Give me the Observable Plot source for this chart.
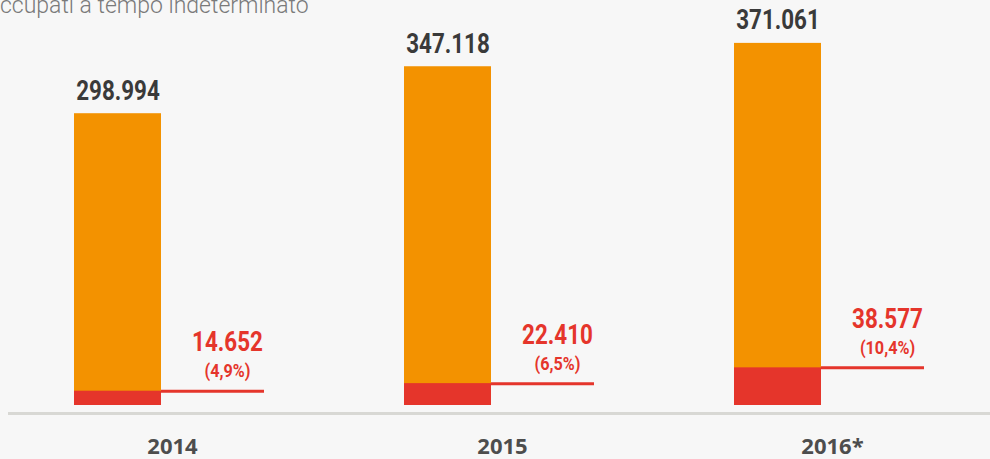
<!DOCTYPE html>
<html>
<head>
<meta charset="utf-8">
<script src="https://cdn.jsdelivr.net/npm/d3@7"></script>
<script src="https://cdn.jsdelivr.net/npm/@observablehq/plot@0.6"></script>
<style>
  html, body { margin: 0; padding: 0; background: #f7f7f7; }
  #wrap { position: relative; width: 990px; height: 459px; overflow: hidden; }
  #title { position: absolute; left: 0; top: -6px; font-family: Roboto, "Open Sans", sans-serif; font-weight: 300; font-size: 23px; line-height: 23px; color: #7a7a7a; white-space: nowrap; }
</style>
</head>
<body>
<div id="wrap">
  <div id="title">ccupati a tempo indeterminato</div>
</div>
<script>
const years = ["2014", "2015", "2016*"];
const totals = [298994, 347118, 371061];
const totalLabels = ["298.994", "347.118", "371.061"];
const parts = [14652, 22410, 38577];
const partLabels = ["14.652", "22.410", "38.577"];
const pctLabels = ["(4,9%)", "(6,5%)", "(10,4%)"];

const data = years.map((y, i) => ({
  year: y, total: totals[i], totalLabel: totalLabels[i],
  part: parts[i], partLabel: partLabels[i], pct: pctLabels[i]
}));

const bandW = 190, barW = 87;

const chart = Plot.plot({
  width: 990,
  height: 459,
  marginLeft: 8,
  marginRight: 0,
  marginTop: 0,
  marginBottom: 54,
  style: { background: "transparent", fontFamily: "'Open Sans', sans-serif" },
  x: { type: "band", domain: years, paddingInner: 1 - 190 / 330, paddingOuter: 0.2, round: false, label: null },
  y: { domain: [0, 415000], axis: null },
  marks: [
    Plot.ruleY([0], { dy: 8, stroke: "#d8d8d4", strokeWidth: 3 }),
    Plot.barY(data, { x: "year", y: "total", fill: "#f39200", insetRight: bandW - barW }),
    Plot.barY(data, { x: "year", y: "part", fill: "#e5352b", insetRight: bandW - barW }),
    Plot.tickY(data, { x: "year", y: "part", stroke: "#e5352b", strokeWidth: 3, insetLeft: barW }),
    Plot.text(data, { x: "year", y: "total", text: "totalLabel", dx: -(bandW - barW) / 2, dy: -14, lineAnchor: "bottom",
      fill: "#3a3a3a", fontSize: 27, fontWeight: "bold", fontFamily: "Roboto" }),
    Plot.text(data, { x: "year", y: "part", text: "partLabel", dx: 58, dy: -40, lineAnchor: "bottom",
      fill: "#e5352b", fontSize: 27, fontWeight: "bold", fontFamily: "Roboto" }),
    Plot.text(data, { x: "year", y: "part", text: "pct", dx: 58, dy: -14, lineAnchor: "bottom",
      fill: "#e5352b", fontSize: 18, fontWeight: "bold", fontFamily: "Roboto" }),
    Plot.axisX({ tickSize: 0, tickPadding: 33, fontSize: 22, fontWeight: "bold", fill: "#4d4d4d", dx: 3, label: null,
      fontFamily: "'Open Sans', sans-serif" })
  ]
});
document.getElementById("wrap").prepend(chart);
chart.style.position = "absolute";
chart.style.left = "0";
chart.style.top = "0";
// condensed look: compress the Roboto labels horizontally
d3.select(chart).selectAll("g[font-family='Roboto'] text").each(function () {
  const w = this.getComputedTextLength();
  const k = this.textContent.startsWith("(") ? 0.9 : 0.83;
  this.setAttribute("textLength", (w * k).toFixed(1));
  this.setAttribute("lengthAdjust", "spacingAndGlyphs");
});
</script>
</body>
</html>
